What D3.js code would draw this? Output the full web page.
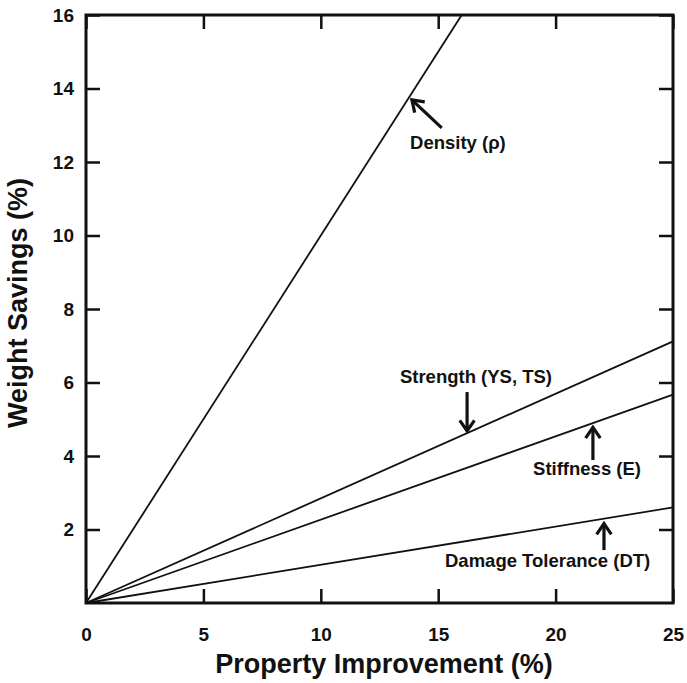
<!DOCTYPE html>
<html lang="en">
  <head>
    <meta charset="UTF-8" />
    <title>Weight Savings</title>
    <script src="https://d3js.org/d3.v7.min.js"></script>
    <style>
      body { margin: 0; background: #fff; }
      text { font-family: Arial, "Liberation Sans", sans-serif; font-weight: bold; fill: #111; }
    </style>
  </head>
  <body>
    <svg width="687" height="683"></svg>
    <script>
      // property improvement (%) -> weight savings (%), each line from origin
      var names = ['Density', 'Strength', 'Stiffness', 'Damage Tolerance']
      var endX = [16, 25, 25, 25]
      var endY = [16, 7.12, 5.67, 2.6]

      var xTicks = [0, 5, 10, 15, 20, 25]
      var yTicks = [2, 4, 6, 8, 10, 12, 14, 16]

      // labels and arrows, in data units
      var labelText = ['Density (\u03c1)', 'Strength (YS, TS)', 'Stiffness (E)', 'Damage Tolerance (DT)']
      var labelPos = [[13.8, 12.35], [13.37, 5.99], [19.04, 3.48], [15.29, 0.97]]
      var arrowFrom = [[15.15, 12.93], [16.23, 5.74], [21.59, 3.89], [22.06, 1.44]]
      var arrowTo = [[13.88, 13.69], [16.23, 4.68], [21.59, 4.78], [22.06, 2.16]]

      var margin = { top: 15, right: 14, bottom: 80, left: 86 }
      var svg = d3.select('svg')
      var width = +svg.attr('width') - margin.left - margin.right
      var height = +svg.attr('height') - margin.top - margin.bottom
      var g = svg.append('g').attr('transform', `translate(${margin.left},${margin.top})`)

      var x = d3.scaleLinear().domain([0, 25]).range([0, width])
      var y = d3.scaleLinear().domain([0, 16]).range([height, 0])

      var tickLen = 14
      function styleAxis(sel) {
        sel.select('.domain').remove()
        sel.selectAll('.tick line').attr('stroke', '#111').attr('stroke-width', 2.5)
        sel.selectAll('.tick text')
          .attr('font-size', 19)
          .attr('font-weight', 'bold')
          .attr('font-family', 'Arial, Liberation Sans')
          .attr('fill', '#111')
      }

      // bottom / left axes with labels, inward ticks
      g.append('g')
        .attr('transform', `translate(0,${height})`)
        .call(d3.axisBottom(x).tickValues(xTicks).tickSizeInner(-tickLen).tickSizeOuter(0).tickPadding(tickLen + 11))
        .call(styleAxis)
      g.append('g')
        .call(d3.axisLeft(y).tickValues(yTicks).tickSizeInner(-tickLen).tickSizeOuter(0).tickPadding(12))
        .call(styleAxis)
      // mirrored ticks on top / right
      g.append('g')
        .call(d3.axisTop(x).tickValues(xTicks).tickSizeInner(-tickLen).tickSizeOuter(0).tickFormat(''))
        .call(styleAxis)
      g.append('g')
        .attr('transform', `translate(${width},0)`)
        .call(d3.axisRight(y).tickValues(yTicks).tickSizeInner(-tickLen).tickSizeOuter(0).tickFormat(''))
        .call(styleAxis)

      // frame
      g.append('rect')
        .attr('width', width)
        .attr('height', height)
        .attr('fill', 'none')
        .attr('stroke', '#111')
        .attr('stroke-width', 3)

      // lines
      var line = d3.line().x(d => x(d[0])).y(d => y(d[1]))
      g.selectAll('.series')
        .data(names)
        .enter()
        .append('path')
        .attr('d', (d, i) => line([[0, 0], [endX[i], endY[i]]]))
        .attr('fill', 'none')
        .attr('stroke', '#111')
        .attr('stroke-width', 1.8)

      // arrows
      g.selectAll('.arrow')
        .data(arrowFrom)
        .enter()
        .append('g')
        .each(function(d, i) {
          var x0 = x(d[0]), y0 = y(d[1])
          var x1 = x(arrowTo[i][0]), y1 = y(arrowTo[i][1])
          var a = Math.atan2(y1 - y0, x1 - x0)
          var h = 13, w = 0.6
          var sel = d3.select(this)
          sel.append('line')
            .attr('x1', x0).attr('y1', y0).attr('x2', x1).attr('y2', y1)
            .attr('stroke', '#111').attr('stroke-width', 3.2)
          sel.append('path')
            .attr('d', `M${x1 - h * Math.cos(a - w)},${y1 - h * Math.sin(a - w)}L${x1},${y1}L${x1 - h * Math.cos(a + w)},${y1 - h * Math.sin(a + w)}`)
            .attr('fill', 'none').attr('stroke', '#111').attr('stroke-width', 3.2)
            .attr('stroke-linejoin', 'miter')
        })

      // labels
      g.selectAll('.label')
        .data(labelText)
        .enter()
        .append('text')
        .attr('x', (d, i) => x(labelPos[i][0]))
        .attr('y', (d, i) => y(labelPos[i][1]))
        .attr('font-size', 18.5)
        .text(d => d)

      // axis titles
      svg.append('text')
        .attr('x', 384)
        .attr('y', 673)
        .attr('text-anchor', 'middle')
        .attr('font-size', 27)
        .text('Property Improvement (%)')
      svg.append('text')
        .attr('transform', 'translate(27,303) rotate(-90)')
        .attr('text-anchor', 'middle')
        .attr('font-size', 27)
        .text('Weight Savings (%)')
    </script>
  </body>
</html>
